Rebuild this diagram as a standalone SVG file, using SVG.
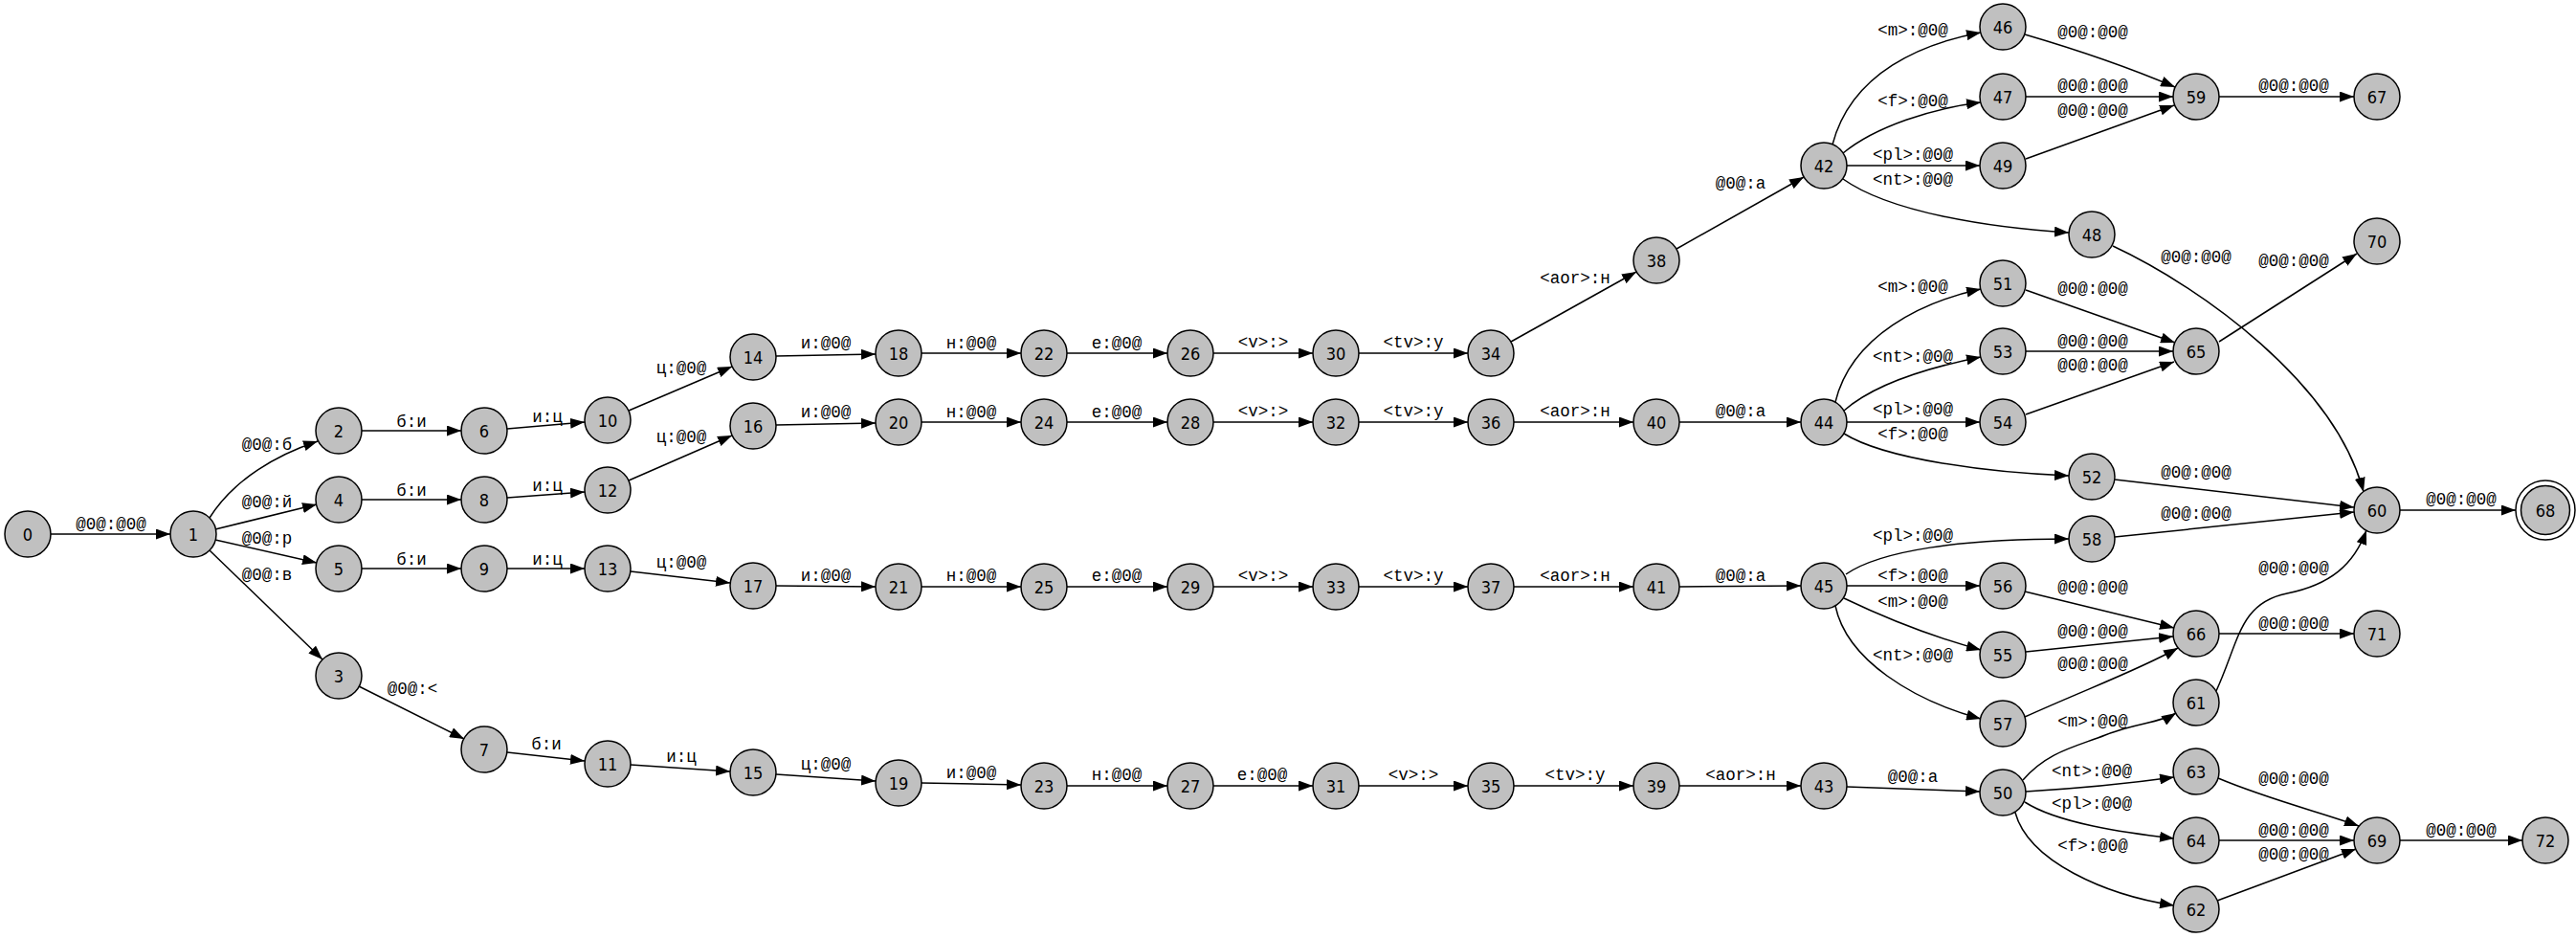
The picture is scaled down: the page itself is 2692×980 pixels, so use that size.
<svg xmlns="http://www.w3.org/2000/svg" width="2692" height="980" viewBox="0 0 2692 980">
<style>
.n circle{fill:#c0c0c0;stroke:#000;stroke-width:1.5}
.n circle.o{fill:none}
.n text{font-family:"DejaVu Sans Condensed","DejaVu Sans",sans-serif;font-size:18px;text-anchor:middle;fill:#000}
.e path{fill:none;stroke:#000;stroke-width:1.5;marker-end:url(#ah)}
.e text{font-family:"Liberation Mono",monospace;font-size:17.5px;text-anchor:middle;fill:#000}
</style>
<defs>
<marker id="ah" markerUnits="userSpaceOnUse" viewBox="0 0 15 11" markerWidth="15" markerHeight="11" refX="15" refY="5.5" orient="auto">
<path d="M0,0 L15,5.5 L0,11 z" fill="#000"/>
</marker>
</defs>
<rect width="2692" height="980" fill="#fff"/>
<g id="connectors" class="e">
<path d="M53,558 L178,558"/><text x="116" y="553">@0@:@0@</text>
<path d="M219,541 C245,500 290,475 332,461"/><text x="279" y="470">@0@:б</text>
<path d="M225,553 L331,527"/><text x="279" y="530">@0@:й</text>
<path d="M225,564 L331,588"/><text x="279" y="568">@0@:р</text>
<path d="M219,575 L337,689"/><text x="279" y="606">@0@:в</text>
<path d="M378,450 L482,450"/><text x="430" y="446">б:и</text>
<path d="M378,522 L482,522"/><text x="430" y="518">б:и</text>
<path d="M378,594 L482,594"/><text x="430" y="590">б:и</text>
<path d="M375,717 L485,772"/><text x="431" y="725">@0@:&lt;</text>
<path d="M530,448 L611,441"/><text x="572" y="441">и:ц</text>
<path d="M530,520 L611,514"/><text x="572" y="513">и:ц</text>
<path d="M530,594 L611,594"/><text x="572" y="590">и:ц</text>
<path d="M530,786 L611,795"/><text x="571" y="783">б:и</text>
<path d="M657,429 L765,383"/><text x="712" y="390">ц:@0@</text>
<path d="M657,502 L765,455"/><text x="712" y="462">ц:@0@</text>
<path d="M659,597 L763,609"/><text x="712" y="593">ц:@0@</text>
<path d="M659,799 L763,806"/><text x="712" y="796">и:ц</text>
<path d="M811,372 L915,370"/><text x="863" y="364">и:@0@</text>
<path d="M811,444 L915,442"/><text x="863" y="436">и:@0@</text>
<path d="M811,612 L915,613"/><text x="863" y="607">и:@0@</text>
<path d="M811,809 L915,816"/><text x="863" y="804">ц:@0@</text>
<path d="M963,369 L1067,369"/><text x="1015" y="364">н:@0@</text>
<path d="M963,441 L1067,441"/><text x="1015" y="436">н:@0@</text>
<path d="M963,613 L1067,613"/><text x="1015" y="607">н:@0@</text>
<path d="M963,818 L1067,820"/><text x="1015" y="813">и:@0@</text>
<path d="M1115,369 L1220,369"/><text x="1167" y="364">е:@0@</text>
<path d="M1115,441 L1220,441"/><text x="1167" y="436">е:@0@</text>
<path d="M1115,613 L1220,613"/><text x="1167" y="607">е:@0@</text>
<path d="M1115,821 L1220,821"/><text x="1167" y="815">н:@0@</text>
<path d="M1268,369 L1372,369"/><text x="1320" y="363">&lt;v&gt;:&gt;</text>
<path d="M1268,441 L1372,441"/><text x="1320" y="435">&lt;v&gt;:&gt;</text>
<path d="M1268,613 L1372,613"/><text x="1320" y="607">&lt;v&gt;:&gt;</text>
<path d="M1268,821 L1372,821"/><text x="1319" y="815">е:@0@</text>
<path d="M1420,369 L1534,369"/><text x="1477" y="363">&lt;tv&gt;:у</text>
<path d="M1420,441 L1534,441"/><text x="1477" y="435">&lt;tv&gt;:у</text>
<path d="M1420,613 L1534,613"/><text x="1477" y="607">&lt;tv&gt;:у</text>
<path d="M1420,821 L1534,821"/><text x="1477" y="815">&lt;v&gt;:&gt;</text>
<path d="M1579,357 L1710,284"/><text x="1646" y="296">&lt;aor&gt;:н</text>
<path d="M1582,441 L1707,441"/><text x="1646" y="435">&lt;aor&gt;:н</text>
<path d="M1582,613 L1707,613"/><text x="1646" y="607">&lt;aor&gt;:н</text>
<path d="M1582,821 L1707,821"/><text x="1646" y="815">&lt;tv&gt;:у</text>
<path d="M1752,260 L1885,185"/><text x="1819" y="197">@0@:а</text>
<path d="M1755,441 L1882,441"/><text x="1819" y="435">@0@:а</text>
<path d="M1755,613 L1882,612"/><text x="1819" y="607">@0@:а</text>
<path d="M1755,821 L1882,821"/><text x="1819" y="815">&lt;aor&gt;:н</text>
<path d="M1930,822 L2069,827"/><text x="1999" y="817">@0@:а</text>
<path d="M1915,151 C1935,75 2010,45 2070,34"/><text x="1999" y="37">&lt;m&gt;:@0@</text>
<path d="M1926,160 C1960,132 2020,113 2070,107"/><text x="1999" y="111">&lt;f&gt;:@0@</text>
<path d="M1930,173 L2069,173"/><text x="1999" y="167">&lt;pl&gt;:@0@</text>
<path d="M1926,187 C1975,222 2080,238 2162,243"/><text x="1999" y="193">&lt;nt&gt;:@0@</text>
<path d="M2116,36 Q2205,62 2273,91"/><text x="2187" y="39">@0@:@0@</text>
<path d="M2117,101 L2271,101"/><text x="2187" y="95">@0@:@0@</text>
<path d="M2117,166 L2272,110"/><text x="2187" y="121">@0@:@0@</text>
<path d="M2319,101 L2460,101"/><text x="2397" y="95">@0@:@0@</text>
<path d="M2208,257 C2300,300 2440,400 2470,514"/><text x="2295" y="274">@0@:@0@</text>
<path d="M2319,357 L2463,265"/><text x="2397" y="278">@0@:@0@</text>
<path d="M1918,420 C1935,350 2010,315 2070,302"/><text x="1999" y="305">&lt;m&gt;:@0@</text>
<path d="M2117,303 L2273,358"/><text x="2187" y="307">@0@:@0@</text>
<path d="M1927,429 C1960,400 2020,383 2070,373"/><text x="1999" y="378">&lt;nt&gt;:@0@</text>
<path d="M2117,367 L2271,367"/><text x="2187" y="362">@0@:@0@</text>
<path d="M2117,433 L2272,378"/><text x="2187" y="387">@0@:@0@</text>
<path d="M1930,441 L2069,441"/><text x="1999" y="433">&lt;pl&gt;:@0@</text>
<path d="M1927,453 C1970,480 2080,494 2162,497"/><text x="1999" y="459">&lt;f&gt;:@0@</text>
<path d="M2210,501 L2460,530"/><text x="2295" y="499">@0@:@0@</text>
<path d="M2210,561 L2460,535"/><text x="2295" y="542">@0@:@0@</text>
<path d="M2508,533 L2629,533"/><text x="2572" y="527">@0@:@0@</text>
<path d="M1929,600 C1965,575 2050,563 2162,563"/><text x="1999" y="565">&lt;pl&gt;:@0@</text>
<path d="M1930,612 L2069,612"/><text x="1999" y="607">&lt;f&gt;:@0@</text>
<path d="M1927,625 Q2000,660 2070,679"/><text x="1999" y="634">&lt;m&gt;:@0@</text>
<path d="M1918,633 C1930,690 2000,732 2070,751"/><text x="1999" y="690">&lt;nt&gt;:@0@</text>
<path d="M2116,618 L2272,656"/><text x="2187" y="619">@0@:@0@</text>
<path d="M2117,681 L2271,665"/><text x="2187" y="665">@0@:@0@</text>
<path d="M2116,749 C2180,720 2235,700 2276,677"/><text x="2187" y="699">@0@:@0@</text>
<path d="M2319,662 L2460,662"/><text x="2397" y="657">@0@:@0@</text>
<path d="M2316,722 C2340,670 2340,630 2390,620 C2435,611 2460,590 2473,554"/><text x="2397" y="599">@0@:@0@</text>
<path d="M2114,815 C2140,785 2170,780 2200,768 C2230,756 2258,755 2274,745"/><text x="2187" y="759">&lt;m&gt;:@0@</text>
<path d="M2117,827 Q2200,822 2272,812"/><text x="2186" y="811">&lt;nt&gt;:@0@</text>
<path d="M2116,838 C2150,860 2220,870 2272,876"/><text x="2186" y="845">&lt;pl&gt;:@0@</text>
<path d="M2106,849 C2120,900 2200,935 2272,946"/><text x="2187" y="889">&lt;f&gt;:@0@</text>
<path d="M2318,813 C2370,835 2430,850 2465,863"/><text x="2397" y="819">@0@:@0@</text>
<path d="M2319,878 L2460,878"/><text x="2397" y="873">@0@:@0@</text>
<path d="M2317,941 L2462,887"/><text x="2397" y="898">@0@:@0@</text>
<path d="M2508,878 L2636,878"/><text x="2572" y="873">@0@:@0@</text>
</g>
<g class="n">
<g id="n0"><circle cx="29" cy="558" r="24"/><text x="29" y="564.5">0</text></g>
<g id="n1"><circle cx="202" cy="558" r="24"/><text x="202" y="564.5">1</text></g>
<g id="n2"><circle cx="354" cy="450" r="24"/><text x="354" y="456.5">2</text></g>
<g id="n4"><circle cx="354" cy="522" r="24"/><text x="354" y="528.5">4</text></g>
<g id="n5"><circle cx="354" cy="594" r="24"/><text x="354" y="600.5">5</text></g>
<g id="n3"><circle cx="354" cy="706" r="24"/><text x="354" y="712.5">3</text></g>
<g id="n6"><circle cx="506" cy="450" r="24"/><text x="506" y="456.5">6</text></g>
<g id="n8"><circle cx="506" cy="522" r="24"/><text x="506" y="528.5">8</text></g>
<g id="n9"><circle cx="506" cy="594" r="24"/><text x="506" y="600.5">9</text></g>
<g id="n7"><circle cx="506" cy="783" r="24"/><text x="506" y="789.5">7</text></g>
<g id="n10"><circle cx="635" cy="439" r="24"/><text x="635" y="445.5">10</text></g>
<g id="n12"><circle cx="635" cy="512" r="24"/><text x="635" y="518.5">12</text></g>
<g id="n13"><circle cx="635" cy="594" r="24"/><text x="635" y="600.5">13</text></g>
<g id="n11"><circle cx="635" cy="798" r="24"/><text x="635" y="804.5">11</text></g>
<g id="n14"><circle cx="787" cy="373" r="24"/><text x="787" y="379.5">14</text></g>
<g id="n16"><circle cx="787" cy="445" r="24"/><text x="787" y="451.5">16</text></g>
<g id="n17"><circle cx="787" cy="612" r="24"/><text x="787" y="618.5">17</text></g>
<g id="n15"><circle cx="787" cy="807" r="24"/><text x="787" y="813.5">15</text></g>
<g id="n18"><circle cx="939" cy="369" r="24"/><text x="939" y="375.5">18</text></g>
<g id="n20"><circle cx="939" cy="441" r="24"/><text x="939" y="447.5">20</text></g>
<g id="n21"><circle cx="939" cy="613" r="24"/><text x="939" y="619.5">21</text></g>
<g id="n19"><circle cx="939" cy="818" r="24"/><text x="939" y="824.5">19</text></g>
<g id="n22"><circle cx="1091" cy="369" r="24"/><text x="1091" y="375.5">22</text></g>
<g id="n24"><circle cx="1091" cy="441" r="24"/><text x="1091" y="447.5">24</text></g>
<g id="n25"><circle cx="1091" cy="613" r="24"/><text x="1091" y="619.5">25</text></g>
<g id="n23"><circle cx="1091" cy="821" r="24"/><text x="1091" y="827.5">23</text></g>
<g id="n26"><circle cx="1244" cy="369" r="24"/><text x="1244" y="375.5">26</text></g>
<g id="n28"><circle cx="1244" cy="441" r="24"/><text x="1244" y="447.5">28</text></g>
<g id="n29"><circle cx="1244" cy="613" r="24"/><text x="1244" y="619.5">29</text></g>
<g id="n27"><circle cx="1244" cy="821" r="24"/><text x="1244" y="827.5">27</text></g>
<g id="n30"><circle cx="1396" cy="369" r="24"/><text x="1396" y="375.5">30</text></g>
<g id="n32"><circle cx="1396" cy="441" r="24"/><text x="1396" y="447.5">32</text></g>
<g id="n33"><circle cx="1396" cy="613" r="24"/><text x="1396" y="619.5">33</text></g>
<g id="n31"><circle cx="1396" cy="821" r="24"/><text x="1396" y="827.5">31</text></g>
<g id="n34"><circle cx="1558" cy="369" r="24"/><text x="1558" y="375.5">34</text></g>
<g id="n36"><circle cx="1558" cy="441" r="24"/><text x="1558" y="447.5">36</text></g>
<g id="n37"><circle cx="1558" cy="613" r="24"/><text x="1558" y="619.5">37</text></g>
<g id="n35"><circle cx="1558" cy="821" r="24"/><text x="1558" y="827.5">35</text></g>
<g id="n38"><circle cx="1731" cy="272" r="24"/><text x="1731" y="278.5">38</text></g>
<g id="n40"><circle cx="1731" cy="441" r="24"/><text x="1731" y="447.5">40</text></g>
<g id="n41"><circle cx="1731" cy="613" r="24"/><text x="1731" y="619.5">41</text></g>
<g id="n39"><circle cx="1731" cy="821" r="24"/><text x="1731" y="827.5">39</text></g>
<g id="n42"><circle cx="1906" cy="173" r="24"/><text x="1906" y="179.5">42</text></g>
<g id="n44"><circle cx="1906" cy="441" r="24"/><text x="1906" y="447.5">44</text></g>
<g id="n45"><circle cx="1906" cy="612" r="24"/><text x="1906" y="618.5">45</text></g>
<g id="n43"><circle cx="1906" cy="821" r="24"/><text x="1906" y="827.5">43</text></g>
<g id="n46"><circle cx="2093" cy="28" r="24"/><text x="2093" y="34.5">46</text></g>
<g id="n47"><circle cx="2093" cy="101" r="24"/><text x="2093" y="107.5">47</text></g>
<g id="n49"><circle cx="2093" cy="173" r="24"/><text x="2093" y="179.5">49</text></g>
<g id="n51"><circle cx="2093" cy="296" r="24"/><text x="2093" y="302.5">51</text></g>
<g id="n53"><circle cx="2093" cy="367" r="24"/><text x="2093" y="373.5">53</text></g>
<g id="n54"><circle cx="2093" cy="441" r="24"/><text x="2093" y="447.5">54</text></g>
<g id="n56"><circle cx="2093" cy="612" r="24"/><text x="2093" y="618.5">56</text></g>
<g id="n55"><circle cx="2093" cy="684" r="24"/><text x="2093" y="690.5">55</text></g>
<g id="n57"><circle cx="2093" cy="756" r="24"/><text x="2093" y="762.5">57</text></g>
<g id="n50"><circle cx="2093" cy="828" r="24"/><text x="2093" y="834.5">50</text></g>
<g id="n48"><circle cx="2186" cy="245" r="24"/><text x="2186" y="251.5">48</text></g>
<g id="n52"><circle cx="2186" cy="498" r="24"/><text x="2186" y="504.5">52</text></g>
<g id="n58"><circle cx="2186" cy="563" r="24"/><text x="2186" y="569.5">58</text></g>
<g id="n59"><circle cx="2295" cy="101" r="24"/><text x="2295" y="107.5">59</text></g>
<g id="n65"><circle cx="2295" cy="367" r="24"/><text x="2295" y="373.5">65</text></g>
<g id="n66"><circle cx="2295" cy="662" r="24"/><text x="2295" y="668.5">66</text></g>
<g id="n61"><circle cx="2295" cy="734" r="24"/><text x="2295" y="740.5">61</text></g>
<g id="n63"><circle cx="2295" cy="806" r="24"/><text x="2295" y="812.5">63</text></g>
<g id="n64"><circle cx="2295" cy="878" r="24"/><text x="2295" y="884.5">64</text></g>
<g id="n62"><circle cx="2295" cy="950" r="24"/><text x="2295" y="956.5">62</text></g>
<g id="n67"><circle cx="2484" cy="101" r="24"/><text x="2484" y="107.5">67</text></g>
<g id="n70"><circle cx="2484" cy="252" r="24"/><text x="2484" y="258.5">70</text></g>
<g id="n60"><circle cx="2484" cy="533" r="24"/><text x="2484" y="539.5">60</text></g>
<g id="n71"><circle cx="2484" cy="662" r="24"/><text x="2484" y="668.5">71</text></g>
<g id="n69"><circle cx="2484" cy="878" r="24"/><text x="2484" y="884.5">69</text></g>
<g id="n68"><circle class="o" cx="2660" cy="533" r="31"/><circle cx="2660" cy="533" r="25.5"/><text x="2660" y="539.5">68</text></g>
<g id="n72"><circle cx="2660" cy="878" r="24"/><text x="2660" y="884.5">72</text></g>
</g>
</svg>
